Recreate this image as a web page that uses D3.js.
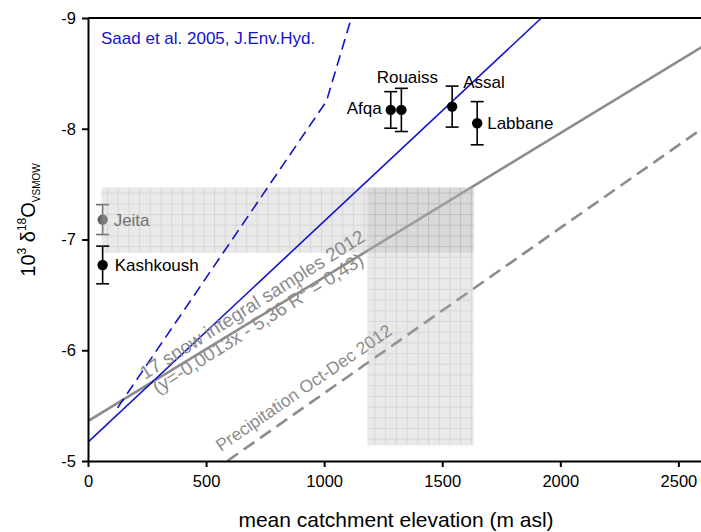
<!DOCTYPE html>
<html>
<head>
<meta charset="utf-8">
<script src="https://cdn.jsdelivr.net/npm/d3@7"></script>
<style>
  body { margin: 0; background: #fff; }
  svg { display: block; font-family: "Liberation Sans", Arial, sans-serif; }
</style>
</head>
<body>
<div id="chart"></div>
<script>
// spring sites: catchment elevation (m asl) vs d18O
let sites = ["Jeita", "Kashkoush", "Afqa", "Rouaiss", "Assal", "Labbane"];
let elevation = [62, 62, 1282, 1327, 1542, 1648];
let d18O = [-7.18, -6.77, -8.17, -8.17, -8.20, -8.05];
let errBar = [0.135, 0.17, 0.165, 0.195, 0.185, 0.195];

// shaded ranges [x0, x1, y0, y1]
let bands = [
  [57, 1633, -7.47, -6.88],
  [1183, 1633, -7.47, -5.14]
];

// lines (elevation, d18O)
let snowLine = [[0, -5.36], [2600, -8.74]];
let precipLine = [[590, -5.0], [2600, -8.0]];
let saadLine = [[0, -5.17], [1920, -9.0]];
let saadDashed = [[125, -5.48], [1010, -8.25], [1115, -9.0]];

let xTicks = [0, 500, 1000, 1500, 2000, 2500];
let yTicks = [-9, -8, -7, -6, -5];

let width = 701, height = 532;
let svg = d3.select("#chart").append("svg")
  .attr("width", width)
  .attr("height", height);

let x = d3.scaleLinear().domain([0, 2600]).range([88, 702]);
let y = d3.scaleLinear().domain([-9, -5]).range([18, 461]);

let defs = svg.append("defs");
defs.append("clipPath").attr("id", "plotclip")
  .append("rect")
  .attr("x", 88).attr("y", 18)
  .attr("width", 614).attr("height", 443);

// grid texture for the shaded ranges
let pat = defs.append("pattern")
  .attr("id", "grid")
  .attr("patternUnits", "userSpaceOnUse")
  .attr("width", 10.7).attr("height", 10.7);
pat.append("rect")
  .attr("width", 10.7).attr("height", 10.7)
  .attr("fill", "#b0b0b0").attr("fill-opacity", 0.28);
pat.append("path")
  .attr("d", "M0,0.5H10.7M0.5,0V10.7")
  .attr("stroke", "#909090").attr("stroke-opacity", 0.22)
  .attr("stroke-width", 1);

let plot = svg.append("g").attr("clip-path", "url(#plotclip)");

let line = d3.line().x(d => x(d[0])).y(d => y(d[1]));

function drawPoint(g, i, color) {
  let px = x(elevation[i]);
  g.append("line")
    .attr("x1", px).attr("x2", px)
    .attr("y1", y(d18O[i] - errBar[i])).attr("y2", y(d18O[i] + errBar[i]))
    .attr("stroke", color).attr("stroke-width", 1.6);
  [d18O[i] - errBar[i], d18O[i] + errBar[i]].forEach(v => {
    g.append("line")
      .attr("x1", px - 6.5).attr("x2", px + 6.5)
      .attr("y1", y(v)).attr("y2", y(v))
      .attr("stroke", color).attr("stroke-width", 1.6);
  });
  g.append("circle")
    .attr("cx", px).attr("cy", y(d18O[i]))
    .attr("r", 5.2)
    .attr("fill", color);
}

let labelPlace = {
  "Jeita":     {dx: 11, dy: 6, anchor: "start"},
  "Kashkoush": {dx: 12, dy: 6, anchor: "start"},
  "Afqa":      {dx: -9, dy: 4, anchor: "end"},
  "Rouaiss":   {dx: 6, dy: -27, anchor: "middle"},
  "Assal":     {dx: 11, dy: -19, anchor: "start"},
  "Labbane":   {dx: 10, dy: 6, anchor: "start"}
};

function drawLabel(g, i, color) {
  let p = labelPlace[sites[i]];
  g.append("text")
    .attr("x", x(elevation[i]) + p.dx)
    .attr("y", y(d18O[i]) + p.dy)
    .attr("text-anchor", p.anchor)
    .attr("font-size", "17px")
    .attr("fill", color)
    .text(sites[i]);
}

// Jeita sits under the shading
drawPoint(plot, 0, "#666");
drawLabel(svg, 0, "#707070");

// gray lines
plot.append("path")
  .datum(snowLine)
  .attr("d", line)
  .attr("fill", "none")
  .attr("stroke", "#8c8c8c")
  .attr("stroke-width", 2.6);

plot.append("path")
  .datum(precipLine)
  .attr("d", line)
  .attr("fill", "none")
  .attr("stroke", "#8c8c8c")
  .attr("stroke-width", 2.6)
  .attr("stroke-dasharray", "13,7");

// shaded ranges
plot.selectAll("rect.band")
  .data(bands)
  .enter().append("rect")
  .attr("class", "band")
  .attr("x", d => x(d[0]))
  .attr("y", d => y(d[2]))
  .attr("width", d => x(d[1]) - x(d[0]))
  .attr("height", d => y(d[3]) - y(d[2]))
  .attr("fill", "url(#grid)");

// Saad et al. lines
plot.append("path")
  .datum(saadLine)
  .attr("d", line)
  .attr("fill", "none")
  .attr("stroke", "#1414c8")
  .attr("stroke-width", 1.6);

plot.append("path")
  .datum(saadDashed)
  .attr("d", line)
  .attr("fill", "none")
  .attr("stroke", "#1414c8")
  .attr("stroke-width", 1.6)
  .attr("stroke-dasharray", "11,6");

for (let i = 1; i < sites.length; i++) {
  drawPoint(plot, i, "#000");
  drawLabel(svg, i, "#000");
}

// rotated annotations along the gray lines
let snowTxt = svg.append("g")
  .attr("transform", "translate(145,380) rotate(-32.3)")
  .attr("fill", "#8c8c8c")
  .attr("font-size", "19px");
snowTxt.append("text").attr("x", 0).attr("y", 0)
  .text("17 snow integral samples 2012");
let eq = snowTxt.append("text").attr("x", 3).attr("y", 19);
eq.append("tspan").text("(y=-0,0013x - 5,36  R");
eq.append("tspan").attr("font-size", "12px").attr("dy", -8).text("2");
eq.append("tspan").attr("dy", 8).text(" = 0,43)");

svg.append("text")
  .attr("transform", "translate(221,452) rotate(-34.5)")
  .attr("fill", "#8c8c8c")
  .attr("font-size", "17.5px")
  .text("Precipitation Oct-Dec 2012");

svg.append("text")
  .attr("x", 101).attr("y", 44)
  .attr("fill", "#1414c8")
  .attr("font-size", "17px")
  .text("Saad et al. 2005, J.Env.Hyd.");

// axes
let xAxis = svg.append("g")
  .attr("transform", "translate(0,461)")
  .call(d3.axisBottom(x).tickValues(xTicks).tickSize(6).tickPadding(8).tickSizeOuter(0)
    .tickFormat(d3.format("d")));
let yAxis = svg.append("g")
  .attr("transform", "translate(88,0)")
  .call(d3.axisLeft(y).tickValues(yTicks).tickSize(6).tickPadding(6).tickSizeOuter(0)
    .tickFormat(d3.format("d")));
[xAxis, yAxis].forEach(a => {
  a.select(".domain").attr("stroke", "#000").attr("stroke-width", 2);
  a.selectAll(".tick line").attr("stroke", "#000").attr("stroke-width", 2);
  a.selectAll(".tick text")
    .attr("fill", "#000")
    .attr("font-size", "16.5px")
    .attr("font-family", "Liberation Sans, Arial, sans-serif");
});
yAxis.selectAll(".tick text").text(d => d3.format("d")(d).replace("\u2212", "-"));

svg.append("line")
  .attr("x1", 88).attr("x2", 702)
  .attr("y1", 18).attr("y2", 18)
  .attr("stroke", "#000").attr("stroke-width", 2);

svg.append("text")
  .attr("x", 396).attr("y", 527)
  .attr("text-anchor", "middle")
  .attr("font-size", "21px")
  .text("mean catchment elevation (m asl)");

let yl = svg.append("text")
  .attr("transform", "translate(35,220) rotate(-90)")
  .attr("text-anchor", "middle")
  .attr("font-size", "20px");
yl.append("tspan").text("10");
yl.append("tspan").attr("font-size", "12px").attr("dy", -9).text("3");
yl.append("tspan").attr("dy", 9).text(" \u03b4");
yl.append("tspan").attr("font-size", "12px").attr("dy", -9).text("18");
yl.append("tspan").attr("dy", 9).text("O");
yl.append("tspan").attr("font-size", "10px").attr("dy", 5).text("VSMOW");
</script>
</body>
</html>
